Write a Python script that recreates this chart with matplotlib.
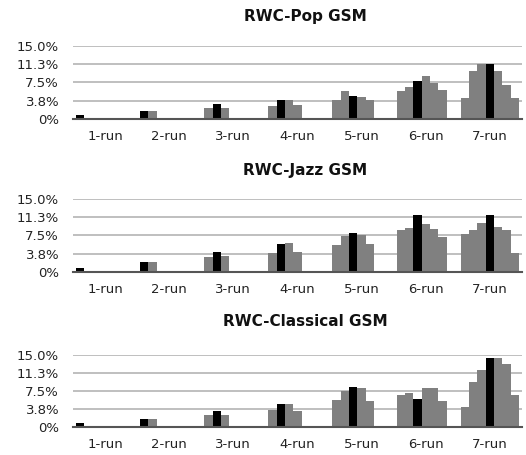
import matplotlib
matplotlib.use("Agg")
import matplotlib.pyplot as plt
import matplotlib.transforms as mtransforms
import numpy as np

CATEGORIES = ["1-run", "2-run", "3-run", "4-run", "5-run", "6-run", "7-run"]
Y_TICKS = [0, 3.75, 7.5, 11.25, 15.0]
Y_TICK_LABELS = ["0%", "3.8%", "7.5%", "11.3%", "15.0%"]
# slot of the black bar inside each group
BLACK_SLOT = [0, 0, 1, 1, 2, 2, 3]

POP = [
    [0.76],
    [1.58, 1.58],
    [2.2, 3.03, 2.2],
    [2.6, 3.85, 3.85, 2.8],
    [3.9, 5.8, 4.7, 4.5, 3.9],
    [5.8, 6.6, 7.8, 8.8, 7.3, 6.0],
    [4.3, 9.9, 11.35, 11.35, 9.9, 7.0, 4.3],
]
JAZZ = [
    [0.76],
    [2.06, 2.06],
    [3.03, 4.06, 3.23],
    [3.85, 5.7, 6.0, 4.06],
    [5.5, 7.43, 7.98, 7.57, 5.7],
    [8.6, 9.0, 11.7, 9.84, 8.8, 7.16],
    [7.78, 8.6, 10.05, 11.7, 9.22, 8.6, 3.85],
]
CLASSICAL = [
    [0.76],
    [1.58, 1.58],
    [2.4, 3.23, 2.4],
    [3.44, 4.68, 4.68, 3.23],
    [5.5, 7.36, 8.19, 7.98, 5.3],
    [6.54, 6.95, 5.71, 7.98, 7.98, 5.3],
    [4.06, 9.22, 11.9, 14.38, 14.38, 13.1, 6.54],
]

PANELS = [
    ("RWC-Pop GSM", POP),
    ("RWC-Jazz GSM", JAZZ),
    ("RWC-Classical GSM", CLASSICAL),
]

plt.rcParams.update({"font.family": "DejaVu Sans", "font.size": 9.5})

fig = plt.figure(figsize=(5.26, 4.55), dpi=100)
W, H = 526.0, 455.0
# (top px, bottom px, title y px)
boxes = [(46, 118.7, 16), (199, 271.7, 170), (354.7, 426.7, 322)]
ax_left, ax_right = 73, 522
slot_w = 0.13

for (title, data), (top, bot, ty) in zip(PANELS, boxes):
    ax = fig.add_axes([ax_left / W, 1 - bot / H, (ax_right - ax_left) / W, (bot - top) / H])
    for g, vals in enumerate(data):
        for j, v in enumerate(vals):
            x = g - 3.5 * slot_w + (j + 0.5) * slot_w
            color = "#000000" if j == BLACK_SLOT[g] else "#808080"
            ax.bar(x, v, width=slot_w, color=color, linewidth=0, zorder=3)
    ax.set_xlim(-0.5, len(CATEGORIES) - 0.5)
    ax.set_ylim(0, 15)
    ax.set_yticks(Y_TICKS)
    ax.set_yticklabels(Y_TICK_LABELS)
    ax.set_xticks(range(len(CATEGORIES)))
    ax.set_xticklabels(CATEGORIES)
    offset = mtransforms.ScaledTranslation(-4.5 / 100, 0, fig.dpi_scale_trans)
    for lab in ax.get_xticklabels():
        lab.set_transform(lab.get_transform() + offset)
    ax.tick_params(axis="both", length=0, labelsize=9.5, colors="#222222")
    ax.tick_params(axis="x", pad=8)
    ax.tick_params(axis="y", pad=10)
    ax.yaxis.grid(True, color="#bfbfbf", linewidth=1.4, zorder=0)
    ax.set_axisbelow(True)
    for side in ("top", "right", "left"):
        ax.spines[side].set_visible(False)
    ax.spines["bottom"].set_color("#555555")
    ax.spines["bottom"].set_linewidth(1.5)
    ax.spines["bottom"].set_zorder(4)
    fig.text(305 / W, 1 - ty / H, title, ha="center", va="center",
             fontsize=11, fontweight="bold", color="#111111")

fig.savefig("out.png", dpi=100)
